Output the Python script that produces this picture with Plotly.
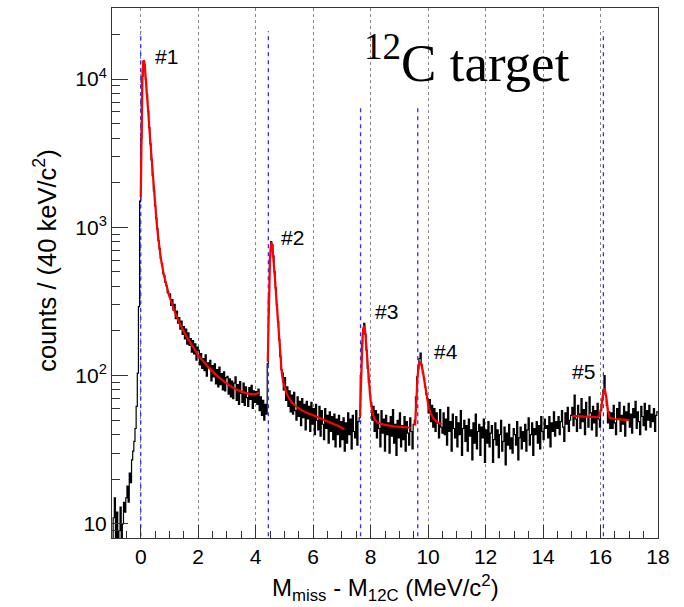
import math
import plotly.graph_objects as go

# ---------------- data ----------------
BIN_START = -1.0      # MeV/c^2, left edge of first bin
BIN_WIDTH = 0.04      # 40 keV bins

# histogram counts, split in segments
seg_a = [6, 11, 15, 7, 12, 5, 9, 13, 8, 10, 14, 12]                       # -1.00 .. -0.56
seg_b = [15, 18, 14, 22, 19, 27, 31, 36, 44, 62, 104, 292, 1500]          # -0.52 .. -0.04
seg_c1 = [4000, 10400, 13200, 12400, 10000, 7900, 6100, 4700, 3650, 2850, 2230, 1760, 1400,
          1150, 975, 815, 715, 615, 570, 490, 475, 425, 405, 362, 356]   # 0.00 .. 0.96
seg_c2 = [356, 298, 326, 276, 302, 242, 272, 226, 246, 206, 233, 190, 214, 177, 206, 163,
          194, 160, 178, 144, 172, 140, 164, 127, 156]                     # 1.00 .. 1.96
seg_c3 = [148, 118, 141, 112, 130, 108, 138, 99, 122, 113, 127, 92, 117, 98, 120, 88,
          110, 84, 114, 87, 103, 80, 106, 79, 97]                          # 2.00 .. 2.96
seg_c4 = [99, 75, 95, 72, 92, 70, 89, 98, 68, 87, 64, 91, 76, 66, 89, 63, 84, 71, 62, 83,
          69, 86, 60, 79, 66]                                              # 3.00 .. 3.96
seg_c5 = [78, 64, 81, 58, 72, 54, 68, 50, 64, 55]                          # 4.00 .. 4.36
seg_d = [120, 340, 630, 800, 765, 640, 500, 390, 300, 232, 175, 135, 110,
         104, 80, 97, 68, 84, 62, 79, 57, 74, 55, 77, 58, 50, 72, 53, 67, 46, 70, 52, 64,
         43, 67, 51, 62, 42, 66, 47, 60, 40, 64, 50, 43, 62, 39, 58, 47, 37, 60, 44, 54,
         35, 57, 42, 53, 37, 55, 33, 51, 40, 54, 33, 49, 37, 52, 31]        # 4.40 .. 7.08
seg_e = [48, 35, 56, 40, 51, 32, 54, 42, 38, 58, 34, 49, 52]               # 7.12 .. 7.60
seg_f = [100, 165, 205, 225, 190, 148, 112, 90, 74, 66,
         50, 62, 42, 58, 38, 55, 44, 33, 58, 41, 51, 31, 54, 40, 48, 30, 53, 39, 59, 35,
         47, 29, 50, 38, 56, 33, 46, 37, 53, 31, 49, 41, 34, 52, 42, 32, 47]  # 7.64 .. 9.48
seg_g = [50, 72, 98, 112, 130, 142, 118, 104, 96, 84, 75, 70,
         56, 69, 49, 63, 45, 60, 42, 56, 48, 38, 59, 45, 41]               # 9.52 .. 10.48
seg_h = [56, 40, 51, 34, 61, 42, 49, 31, 55, 44,
         38, 53, 33, 48, 40, 58, 29, 44, 50, 36,
         46, 31, 51, 39, 43, 27, 48, 35, 55, 32,
         42, 47, 29, 45, 38, 51, 26, 43, 35, 49,
         33, 41, 46, 26, 37, 48, 34, 43, 28, 40,
         50, 31, 36, 45, 25, 41, 34, 47, 32, 38,
         30, 44, 40, 34, 49, 27, 38, 45, 32, 42,
         36, 47, 31, 43, 52, 34, 40, 48, 29, 44,
         40, 49, 35, 46, 32, 53, 42, 37, 51, 44,
         46, 38, 53, 33, 48, 42, 57, 39, 49, 44,
         53, 40, 49, 58, 45, 36, 56, 47, 61, 42, 50, 54]                   # 10.52 .. 14.96
seg_i = [61, 46, 74, 51, 42, 63, 55, 44, 70, 49, 59, 40, 66, 53, 45, 72, 56, 43, 62, 48,
         58, 39, 65, 51, 45]                                               # 15.00 .. 15.96
seg_j = [58, 68, 80, 100, 74, 63, 48, 57, 44]                              # 16.00 .. 16.32
seg_k = [56, 44, 63, 48, 40, 60, 51, 66, 42, 54, 47, 62, 39, 57, 50, 65, 45, 55, 41, 60,
         52, 67, 44, 57, 49, 40, 62, 53, 46, 65, 43, 58, 50, 63, 45, 55, 49, 60, 42, 54, 57]  # 16.36 .. 17.96

segments = [seg_a, seg_b, seg_c1, seg_c2, seg_c3, seg_c4, seg_c5, seg_d, seg_e, seg_f,
            seg_g, seg_h, seg_i, seg_j, seg_k]
expected = [12, 13, 25, 25, 25, 25, 10, 68, 13, 47, 25, 112, 25, 9, 41]
for k, (s, n) in enumerate(zip(segments, expected)):
    assert len(s) == n, (k, len(s), n)
counts = [v for s in segments for v in s]

# fit curves (red)
fit1_x = [0.00, 0.02, 0.04, 0.06, 0.08, 0.10, 0.12, 0.14, 0.16, 0.18, 0.20, 0.24, 0.28, 0.32,
          0.36, 0.40, 0.45, 0.50, 0.55, 0.60, 0.65, 0.70, 0.80, 0.90, 1.00, 1.20, 1.40, 1.60,
          1.80, 2.00, 2.30, 2.60, 2.90, 3.20, 3.50, 3.80, 4.00, 4.12]
fit1_y = [1600, 4000, 7500, 10500, 12500, 13300, 13200, 12400, 11200, 10000, 8900, 6900,
          5300, 4100, 3200, 2500, 1850, 1400, 1100, 880, 730, 620, 480, 395, 340, 265, 215,
          182, 157, 137, 117, 102, 91, 83, 78, 75, 75, 77]
fit2_x = [4.42, 4.44, 4.46, 4.48, 4.50, 4.52, 4.54, 4.56, 4.58, 4.60, 4.62, 4.66, 4.70, 4.74,
          4.78, 4.82, 4.86, 4.90, 4.95, 5.00, 5.10, 5.25, 5.45, 5.70, 6.00, 6.30, 6.60, 6.90, 7.08]
fit2_y = [124, 200, 340, 480, 630, 730, 780, 775, 740, 680, 610, 480, 375, 295, 225, 172,
          132, 108, 92, 84, 74, 66, 61, 57, 54, 51, 48.5, 45.5, 43.5]
fit3_x = [7.63, 7.66, 7.69, 7.72, 7.75, 7.78, 7.81, 7.84, 7.87, 7.91, 7.95, 8.00, 8.06, 8.13,
          8.25, 8.50, 8.80, 9.10, 9.40]
fit3_y = [53, 90, 140, 185, 210, 216, 200, 168, 135, 104, 82, 67, 57, 51, 48, 46.5, 45.5, 45, 44.5]
fit4_x = [9.55, 9.59, 9.63, 9.67, 9.71, 9.75, 9.79, 9.83, 9.87, 9.91, 9.96, 10.02, 10.10,
          10.20, 10.32, 10.47]
fit4_y = [46, 70, 97, 115, 123, 124, 116, 104, 92, 81, 70, 61, 55, 51, 48.5, 47]
fit5_x = [15.02, 15.40, 15.80, 15.95, 16.02, 16.08, 16.14, 16.20, 16.26, 16.32, 16.50, 16.80, 17.01]
fit5_y = [53.5, 53, 52.5, 53, 60, 74, 82, 72, 58, 52, 51, 50.5, 50]

# level markers (blue dashed)
levels = [0.0, 4.44, 7.65, 9.64, 16.1]
level_top = [21000, 21000, 6600, 6600, 21000]

# peak labels
label_text = ["#1", "#2", "#3", "#4", "#5"]
label_x = [0.42, 4.82, 8.07, 10.12, 14.95]
label_y = [14100, 860, 270, 145, 107]

X_RANGE = [-1.0, 18.0]
Y_RANGE_LOG = [0.905, 4.479]

# ---------------- figure ----------------
fig = go.Figure()

edges = [BIN_START + BIN_WIDTH * i for i in range(len(counts) + 1)]
fig.add_trace(go.Scatter(x=edges, y=counts + [counts[-1]], mode="lines",
                         line=dict(color="black", width=1.2, shape="hv"),
                         hoverinfo="skip", showlegend=False))

for lv, top in zip(levels, level_top):
    fig.add_trace(go.Scatter(x=[lv, lv], y=[1, top], mode="lines",
                             line=dict(color="rgb(45,45,255)", width=1.3, dash="4px,4px"),
                             hoverinfo="skip", showlegend=False))

for fx, fy in [(fit1_x, fit1_y), (fit2_x, fit2_y), (fit3_x, fit3_y), (fit4_x, fit4_y), (fit5_x, fit5_y)]:
    fig.add_trace(go.Scatter(x=fx, y=fy, mode="lines",
                             line=dict(color="rgb(255,0,0)", width=2.2),
                             hoverinfo="skip", showlegend=False))

FONT = "Liberation Sans, Arial, sans-serif"

for t, lx, ly in zip(label_text, label_x, label_y):
    fig.add_annotation(x=lx, y=math.log10(ly), xref="x", yref="y", text=t, showarrow=False,
                       xanchor="left", yanchor="middle",
                       font=dict(family=FONT, size=21, color="black"))

fig.add_annotation(x=0.458, y=0.904, xref="paper", yref="paper",
                   text="<sup>12</sup>C target", showarrow=False,
                   xanchor="left", yanchor="middle",
                   font=dict(family="Liberation Serif, Times New Roman, serif", size=53, color="black"))

fig.add_annotation(x=0.50, y=0, xref="paper", yref="paper", yshift=-50,
                   text="M<sub>miss</sub> - M<sub>12C</sub> (MeV/c<sup>2</sup>)", showarrow=False,
                   xanchor="center", yanchor="middle",
                   font=dict(family=FONT, size=24, color="black"))
fig.add_annotation(x=0, y=0.523, xref="paper", yref="paper", xshift=-67,
                   text="counts / (40 keV/c<sup>2</sup>)", showarrow=False, textangle=-90,
                   xanchor="center", yanchor="middle",
                   font=dict(family=FONT, size=25.5, color="black"))

minor_y = [m * 10 ** d for d in range(0, 5) for m in range(2, 10)]

fig.update_layout(
    width=684, height=607,
    margin=dict(l=112, r=26, t=8, b=69),
    paper_bgcolor="white", plot_bgcolor="white",
    showlegend=False,
    xaxis=dict(range=X_RANGE, tick0=0, dtick=2, ticks="inside", ticklen=13, tickwidth=1,
               tickcolor="#333", showgrid=True, griddash="dot", gridcolor="#888", gridwidth=1,
               showline=True, linecolor="#333", linewidth=1, mirror=True, zeroline=False,
               tickfont=dict(family=FONT, size=21, color="black"),
               minor=dict(ticks="inside", ticklen=7, dtick=0.5, tick0=0, tickcolor="#333",
                          showgrid=False)),
    yaxis=dict(type="log", range=Y_RANGE_LOG, tickmode="array",
               tickvals=[10, 100, 1000, 10000],
               ticktext=["10", "10<sup>2</sup>", "10<sup>3</sup>", "10<sup>4</sup>"],
               ticks="inside", ticklen=16, tickwidth=1, tickcolor="#333",
               showgrid=False, showline=True, linecolor="#333", linewidth=1, mirror=True,
               zeroline=False, tickfont=dict(family=FONT, size=21, color="black"),
               minor=dict(tickmode="array", tickvals=minor_y, ticks="inside", ticklen=8,
                          tickcolor="#333", showgrid=False)),
)

fig.write_html("out.html")
